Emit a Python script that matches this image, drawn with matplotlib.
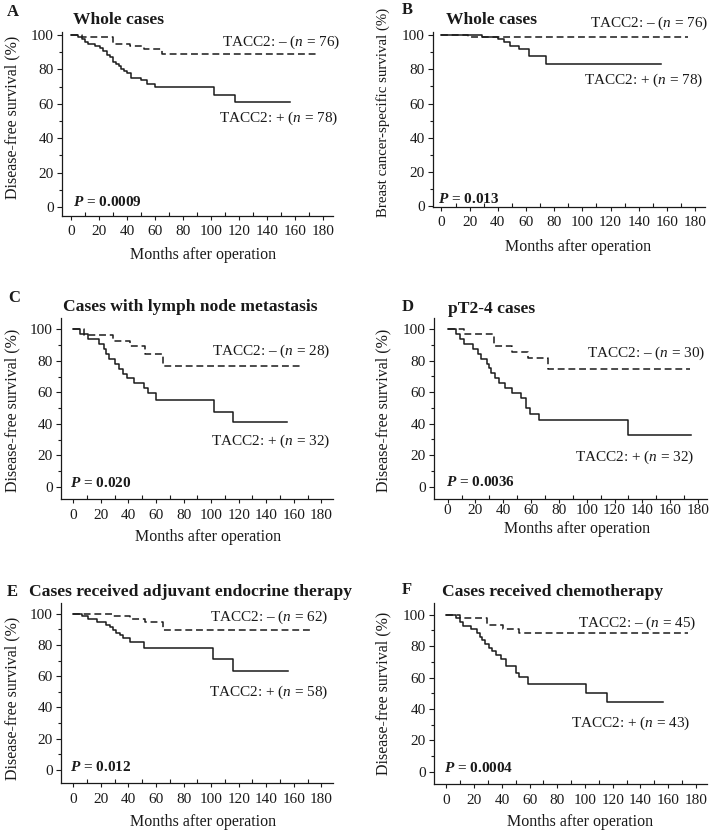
import matplotlib
matplotlib.use("Agg")
import matplotlib.pyplot as plt
from matplotlib.ticker import MultipleLocator

plt.rcParams['font.family'] = ['Liberation Serif', 'DejaVu Serif']
plt.rcParams['mathtext.fontset'] = 'custom'
plt.rcParams['mathtext.rm'] = 'Liberation Serif'
plt.rcParams['mathtext.it'] = 'Liberation Serif:italic'
plt.rcParams['mathtext.bf'] = 'Liberation Serif:bold'
plt.rcParams['mathtext.bfit'] = 'Liberation Serif:bold:italic'

W, H = 709, 833

# Kaplan-Meier steps: event months and survival (%) after each step
A_POS_T = [0, 5, 8, 10, 12, 17, 21, 23, 26, 28, 30, 32, 34, 36, 38, 40, 43, 50, 54, 60, 102, 117]
A_POS_S = [100, 98.7, 97.4, 96.1, 94.8, 93.5, 92.2, 90.9, 88.3, 86.9, 84.3, 83.0, 81.7, 80.4,
           79.1, 77.8, 75.2, 73.9, 71.3, 69.7, 65.3, 60.9]
A_POS_END = 156
A_NEG_T = [0, 8, 30, 42, 52, 65]
A_NEG_S = [100, 98.7, 94.7, 93.3, 91.9, 88.9]
A_NEG_END = 175

B_POS_T = [0, 28.5, 40, 44.5, 48.5, 55, 62, 74.5]
B_POS_S = [100, 98.7, 97.4, 96.1, 93.3, 91.8, 87.6, 83.3]
B_POS_END = 156
B_NEG_T = [0, 19]
B_NEG_S = [100, 98.7]
B_NEG_END = 175

C_POS_T = [0, 5, 11, 19, 22, 24, 26, 30, 33, 36, 39, 44, 51, 54, 60, 102, 116]
C_POS_S = [100, 96.9, 93.8, 90.6, 87.5, 84.4, 81.3, 78.1, 75.0, 71.9, 68.8, 65.6, 62.5, 59.4,
           55.2, 47.3, 41.2]
C_POS_END = 155
C_NEG_T = [0, 8, 29, 41, 52, 65]
C_NEG_S = [100, 96.4, 92.8, 89.3, 84.1, 76.7]
C_NEG_END = 166

D_POS_T = [0, 6, 9, 12, 18, 22, 24, 28, 30, 31, 34, 37, 41, 46, 53, 56, 59, 66, 130]
D_POS_S = [100, 96.9, 93.8, 90.6, 87.5, 84.4, 81.3, 78.1, 75.0, 71.9, 68.8, 65.6, 62.5, 59.4,
           56.3, 50.0, 46.2, 42.0, 32.8]
D_POS_END = 175
D_NEG_T = [0, 12, 33, 46, 58, 72]
D_NEG_S = [100, 96.7, 89.3, 85.6, 81.4, 74.6]
D_NEG_END = 174

E_POS_T = [0, 6, 11, 17, 24, 27, 29, 31, 34, 36, 41, 51, 101, 116]
E_POS_S = [100, 98.3, 96.6, 94.8, 93.1, 91.4, 89.7, 87.9, 86.2, 84.5, 82.0, 77.9, 70.8, 63.3]
E_POS_END = 156
E_NEG_T = [0, 28, 41, 52, 65]
E_NEG_S = [100, 98.4, 96.6, 94.5, 89.9]
E_NEG_END = 174

F_POS_T = [0, 7, 10, 12, 18, 22, 24, 25.5, 28, 31, 33, 36, 39, 43, 50.5, 52, 59, 101, 116]
F_POS_S = [100, 97.7, 95.3, 93.0, 90.7, 88.4, 86.0, 83.7, 81.4, 79.1, 76.7, 74.4, 72.1, 67.4,
           62.8, 60.5, 55.8, 50.0, 44.7]
F_POS_END = 156
F_NEG_T = [0, 10, 29, 41, 52]
F_NEG_S = [100, 97.8, 93.3, 91.1, 88.4]
F_NEG_END = 174

LETTERS = ["A", "B", "C", "D", "E", "F"]
TITLES = ["Whole cases", "Whole cases", "Cases with lymph node metastasis", "pT2-4 cases",
          "Cases received adjuvant endocrine therapy", "Cases received chemotherapy"]
YLABELS = ["Disease-free survival (%)", "Breast cancer-specific survival (%)",
           "Disease-free survival (%)", "Disease-free survival (%)",
           "Disease-free survival (%)", "Disease-free survival (%)"]
N_NEG = [76, 76, 28, 30, 62, 45]
N_POS = [78, 78, 32, 32, 58, 43]
P_VALUES = ["0.0009", "0.013", "0.020", "0.0036", "0.012", "0.0004"]

CURVES = [
    (A_POS_T, A_POS_S, A_POS_END, A_NEG_T, A_NEG_S, A_NEG_END),
    (B_POS_T, B_POS_S, B_POS_END, B_NEG_T, B_NEG_S, B_NEG_END),
    (C_POS_T, C_POS_S, C_POS_END, C_NEG_T, C_NEG_S, C_NEG_END),
    (D_POS_T, D_POS_S, D_POS_END, D_NEG_T, D_NEG_S, D_NEG_END),
    (E_POS_T, E_POS_S, E_POS_END, E_NEG_T, E_NEG_S, E_NEG_END),
    (F_POS_T, F_POS_S, F_POS_END, F_NEG_T, F_NEG_S, F_NEG_END),
]

# layout in pixels: axes box (left, top, right, bottom), limits, and text anchors
LAYOUT = [
    dict(box=(62, 32, 333, 216), xlim=(-6.4, 187), ylim=(-5.2, 101.7), xpad=3.5,
         letter=(7, 12), title=(73, 20), neg=(340, 42), pos=(338, 118), p=(73, 202),
         ylab=(12, 117), ylsize=11.5, xlab=(203, 255)),
    dict(box=(433, 32, 705, 207), xlim=(-6, 187), ylim=(-0.3, 101.7), xpad=3.5,
         letter=(402, 10), title=(446, 20), neg=(708, 23), pos=(703, 80), p=(438, 199),
         ylab=(383, 112), ylsize=10.7, xlab=(578, 247)),
    dict(box=(61, 318, 333, 499), xlim=(-8.9, 188.4), ylim=(-7.8, 107.2), xpad=4,
         letter=(8, 298), title=(63, 307), neg=(330, 351), pos=(330, 441), p=(70, 483),
         ylab=(12, 410), ylsize=11.5, xlab=(208, 537)),
    dict(box=(434, 318, 707, 499), xlim=(-9.8, 186.5), ylim=(-7.8, 107.0), xpad=0.3,
         letter=(402, 307), title=(448, 309), neg=(705, 353), pos=(694, 457), p=(446, 482),
         ylab=(383, 410), ylsize=11.5, xlab=(577, 529)),
    dict(box=(61, 603, 333, 783), xlim=(-8.9, 188.4), ylim=(-8.5, 106.9), xpad=4,
         letter=(7, 592), title=(29, 592), neg=(328, 617), pos=(328, 692), p=(70, 767),
         ylab=(12, 698), ylsize=11.5, xlab=(203, 822)),
    dict(box=(434, 603, 707, 784), xlim=(-9, 188), ylim=(-7.8, 107.5), xpad=4,
         letter=(402, 590), title=(442, 592), neg=(696, 623), pos=(690, 723), p=(444, 768),
         ylab=(383, 693), ylsize=11.5, xlab=(580, 822)),
]

INK = "#1a1a1a"


def fx(x):
    return x / W


def fy(y):
    return 1 - y / H


fig = plt.figure(figsize=(W / 100, H / 100), dpi=100)

for i, lay in enumerate(LAYOUT):
    l, t, r, b = lay["box"]
    ax = fig.add_axes([fx(l), fy(b), (r - l) / W, (b - t) / H])
    pos_t, pos_s, pos_end, neg_t, neg_s, neg_end = CURVES[i]

    ax.step(list(pos_t) + [pos_end], list(pos_s) + [pos_s[-1]], where="post",
            color=INK, lw=1.1)
    ax.step(list(neg_t) + [neg_end], list(neg_s) + [neg_s[-1]], where="post",
            color=INK, lw=1.1, linestyle=(0, (4.5, 2.5)))

    ax.set_xlim(*lay["xlim"])
    ax.set_ylim(*lay["ylim"])
    ax.set_xticks(range(0, 181, 20))
    ax.set_yticks(range(0, 101, 20))
    ax.xaxis.set_minor_locator(MultipleLocator(10))
    ax.yaxis.set_minor_locator(MultipleLocator(10))
    ax.tick_params(axis="both", which="major", labelsize=11, colors=INK, width=0.8)
    ax.tick_params(axis="y", which="major", direction="out", length=3.5, pad=2.5)
    ax.tick_params(axis="y", which="minor", direction="out", length=2, width=0.8, colors=INK)
    ax.tick_params(axis="x", which="major", direction="out", length=3, pad=lay["xpad"])
    ax.tick_params(axis="x", which="minor", direction="in", length=3, width=0.8, colors=INK)
    for side in ["top", "right"]:
        ax.spines[side].set_visible(False)
    for side in ["left", "bottom"]:
        ax.spines[side].set_linewidth(0.9)
        ax.spines[side].set_color(INK)

    fig.text(fx(lay["letter"][0]), fy(lay["letter"][1]), LETTERS[i], fontsize=12,
             fontweight="bold", ha="left", va="center", color=INK)
    fig.text(fx(lay["title"][0]), fy(lay["title"][1]), TITLES[i], fontsize=12.6,
             fontweight="bold", ha="left", va="center", color=INK)
    fig.text(fx(lay["neg"][0]), fy(lay["neg"][1]), "TACC2: \u2013 ($n$ = %d)" % N_NEG[i],
             fontsize=11, ha="right", va="center", color=INK)
    fig.text(fx(lay["pos"][0]), fy(lay["pos"][1]), "TACC2: + ($n$ = %d)" % N_POS[i],
             fontsize=11, ha="right", va="center", color=INK)
    fig.text(fx(lay["p"][0]), fy(lay["p"][1]), r"$\mathbfit{P}$ = " + P_VALUES[i],
             fontsize=11, fontweight="bold", ha="left", va="center", color=INK)
    fig.text(fx(lay["ylab"][0]), fy(lay["ylab"][1]), YLABELS[i], fontsize=lay["ylsize"],
             rotation=90, ha="center", va="center", color=INK)
    fig.text(fx(lay["xlab"][0]), fy(lay["xlab"][1]), "Months after operation", fontsize=11.5,
             ha="center", va="center", color=INK)

fig.savefig("out.png", dpi=100)
